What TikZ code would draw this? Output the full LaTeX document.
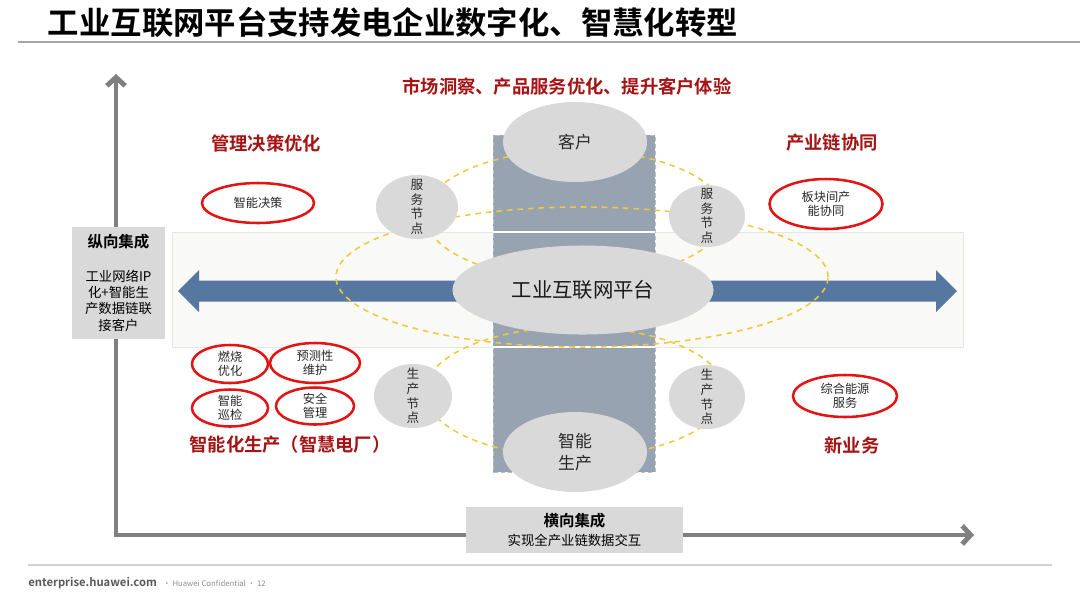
\documentclass[tikz,border=0pt]{standalone}
\usepackage{fontspec}
\setmainfont{Noto Sans CJK SC}[BoldFont={Noto Sans CJK SC Bold}]
\usetikzlibrary{shapes.geometric,arrows.meta,positioning}

\definecolor{nodegray}{RGB}{217,217,217}
\definecolor{colblue}{RGB}{151,163,177}
\definecolor{arrowblue}{RGB}{86,120,160}
\definecolor{ringred}{RGB}{226,20,20}
\definecolor{labelred}{RGB}{165,20,20}
\definecolor{dashyellow}{RGB}{244,200,60}
\definecolor{axisgray}{RGB}{128,128,128}
\definecolor{bandfill}{RGB}{249,249,247}
\definecolor{bandline}{RGB}{230,230,228}
\definecolor{textgray}{RGB}{40,40,40}
\definecolor{footgray}{RGB}{89,89,89}

\tikzset{
  hub/.style={ellipse, fill=nodegray, inner sep=0pt},
  ring/.style={ellipse, draw=ringred, line width=1.8pt, fill=white, inner sep=0pt},
  ringtext/.style={align=center, text=textgray, font=\fontsize{8.7}{10}\selectfont},
  hubtext/.style={align=center, text=textgray, font=\fontsize{9}{10.4}\selectfont},
  redlabel/.style={text=labelred, font=\fontsize{13}{15}\selectfont\bfseries},
  linkring/.style={draw=dashyellow, line width=1.1pt, dash pattern=on 4pt off 3.5pt},
  axisbox/.style={fill=nodegray, inner sep=1pt, align=center},
  axis/.style={draw=axisgray, line width=3.5pt, line join=miter,
    {Straight Barb[length=6pt,width=13pt]}-{Straight Barb[length=6pt,width=13pt]}},
}

\begin{document}
\begin{tikzpicture}[x=0.025cm, y=-0.025cm]
    \useasboundingbox (0,0) rectangle (1080,608);

    % Title
    \node[anchor=west, font=\fontsize{22.3}{26}\selectfont\bfseries] (title) at (43,22) {工业互联网平台支持发电企业数字化、智慧化转型};
    \draw[color=black!35, line width=1pt] (18,42) -- (1080,42);

    % Band and column
    \draw[fill=bandfill, draw=bandline] (172,232) rectangle (963,347);
    \draw[fill=colblue, draw=colblue!70!white, densely dashed, line width=0.5pt] (493,135) rectangle (655,472);
    \draw[white, line width=1pt] (493,232) -- (655,232);
    \draw[white, line width=1pt] (493,347) -- (655,347);

    % Platform arrow
    \fill[arrowblue] (178,291) -- (199,270) -- (199,280.5) -- (936,280.5) -- (936,270) -- (957,291)
        -- (936,312) -- (936,301.5) -- (199,301.5) -- (199,312) -- cycle;

    % Dashed links
    \draw[linkring] (575,215) ellipse [x radius=3.75cm, y radius=1.625cm];
    \draw[linkring] (575,392) ellipse [x radius=3.75cm, y radius=1.625cm];
    \draw[linkring] (582,277) ellipse [x radius=6.15cm, y radius=1.75cm];

    % Gray nodes
    \node[hub, minimum width=6.525cm, minimum height=2.225cm,
      label={[font=\fontsize{14.5}{16}\selectfont, text=black!90]center:工业互联网平台}] (platform) at (583,290) {};
    \node[hub, minimum width=3.6cm, minimum height=2cm,
      label={[font=\fontsize{12}{14}\selectfont, text=textgray]center:客户}] (customer) at (575,142) {};
    \node[hub, minimum width=3.6cm, minimum height=2cm,
      label={[align=center, font=\fontsize{12}{15.5}\selectfont, text=textgray]center:智能\\生产}] (smartprod) at (575,452) {};
    \node[hub, minimum width=2.05cm, minimum height=1.6cm,
      label={[hubtext]center:服\\务\\节\\点}] (serviceL) at (417,207) {};
    \node[hub, minimum width=1.9cm, minimum height=1.55cm,
      label={[hubtext]center:服\\务\\节\\点}] (serviceR) at (707,216) {};
    \node[hub, minimum width=1.95cm, minimum height=1.6cm,
      label={[hubtext]center:生\\产\\节\\点}] (prodL) at (413,396) {};
    \node[hub, minimum width=1.9cm, minimum height=1.6cm,
      label={[hubtext]center:生\\产\\节\\点}] (prodR) at (707,397) {};

    % Red rings
    \node[ring, minimum width=2.8cm, minimum height=1cm,
      label={[ringtext]center:智能决策}] (decision) at (258,203) {};
    \node[ring, minimum width=2.825cm, minimum height=1.25cm,
      label={[ringtext]center:板块间产\\能协同}] (capacity) at (826,204) {};
    \node[ring, minimum width=1.9cm, minimum height=0.95cm,
      label={[ringtext]center:燃烧\\优化}] (combustion) at (230,364) {};
    \node[ring, minimum width=2.25cm, minimum height=1cm,
      label={[ringtext]center:预测性\\维护}] (predict) at (315,363) {};
    \node[ring, minimum width=1.9cm, minimum height=0.925cm,
      label={[ringtext]center:智能\\巡检}] (patrol) at (230,408) {};
    \node[ring, minimum width=1.95cm, minimum height=0.925cm,
      label={[ringtext]center:安全\\管理}] (safety) at (315,406) {};
    \node[ring, minimum width=2.6cm, minimum height=1.05cm,
      label={[ringtext]center:综合能源\\服务}] (energy) at (845,396) {};

    % Red labels
    \node[redlabel] (market) at (567,87) {市场洞察、产品服务优化、提升客户体验};
    \node[redlabel] (mgmt) at (266,143) {管理决策优化};
    \node[redlabel] (chain) at (832,143) {产业链协同};
    \node[redlabel] (plant) at (290,445) {智能化生产（智慧电厂）};
    \node[redlabel] (newbiz) at (852,445) {新业务};

    % Axes
    \coordinate (ytop) at (116,74);
    \coordinate (xend) at (974,535);
    \draw[axis] (ytop) |- (xend);

    % Axis boxes
    \node[axisbox, minimum width=2.325cm, minimum height=2.8cm,
      font=\fontsize{9.5}{11.7}\selectfont] (vertint) at (118.5,283)
      {{\fontsize{11}{12}\selectfont\bfseries 纵向集成}\\[12pt]工业网络IP\\化+智能生\\产数据链联\\接客户};
    \node[axisbox, minimum width=5.425cm, minimum height=1.15cm,
      font=\fontsize{9.5}{13.5}\selectfont] (horint) at (574.5,530)
      {{\fontsize{11}{12}\selectfont\bfseries 横向集成}\\实现全产业链数据交互};

    % Footer
    \draw[color=black!18, line width=1pt] (28,565) -- (1052,565);
    \node[anchor=west, inner sep=0pt, text=footgray, font=\fontsize{8}{9}\selectfont\bfseries] (site) at (28,583) {enterprise.huawei.com};
    \node[right=4pt of site, inner sep=0pt, text=black!45, font=\fontsize{5.5}{6}\selectfont] (conf) {• Huawei Confidential • 12};
\end{tikzpicture}
\end{document}
